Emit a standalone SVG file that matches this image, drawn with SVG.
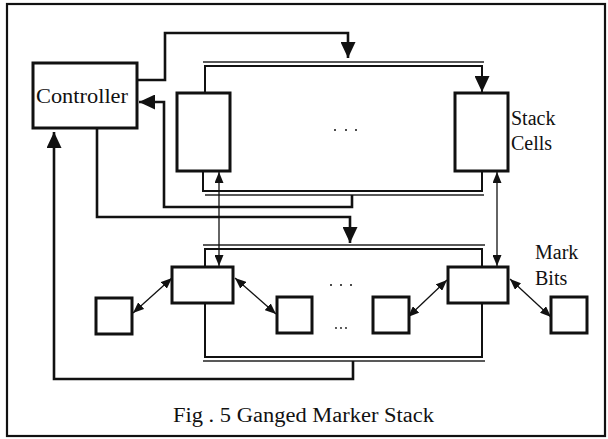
<svg xmlns="http://www.w3.org/2000/svg" width="608" height="439" viewBox="0 0 608 439">
<style>
.box{fill:#fff;stroke:#111;stroke-width:3}
.thick{fill:none;stroke:#111;stroke-width:2.6;stroke-linejoin:miter}
.bus{fill:none;stroke:#222;stroke-width:1.4}
.busin{fill:none;stroke:#111;stroke-width:2}
.thin{fill:none;stroke:#111;stroke-width:1.3}
text{font-family:"Liberation Serif","Times New Roman",serif;fill:#111}
.dot{fill:#111}
</style>
<defs>
<marker id="big" markerUnits="userSpaceOnUse" markerWidth="16" markerHeight="15" viewBox="0 0 16 15" refX="16" refY="7.5" orient="auto">
<path d="M0,0 L16,7.5 L0,15 z" fill="#111"/>
</marker>
<marker id="sm" markerUnits="userSpaceOnUse" markerWidth="11" markerHeight="9" viewBox="0 0 11 9" refX="11" refY="4.5" orient="auto-start-reverse">
<path d="M0,0 L11,4.5 L0,9 z" fill="#111"/>
</marker>
</defs>
<rect x="7" y="4" width="598" height="432" fill="#fff" stroke="#111" stroke-width="2.2"/>

<g id="connectors">
<path class="thick" d="M137,80 H165 V33 H348 V58" marker-end="url(#big)"/>
<path class="bus" d="M203,62 H484"/>
<path class="busin" d="M205,92 V66 H482 V92" marker-start="url(#big)" marker-end="url(#big)"/>
<path class="busin" d="M203,171 V191 H482 V171"/>
<path class="bus" d="M205,195 H484"/>
<path class="thick" d="M352,195 V207 H164 V102 H139" marker-end="url(#big)"/>
<path class="thick" d="M97,128 V217 H350 V243" marker-end="url(#big)"/>
<path class="bus" d="M203,245 H485"/>
<path class="busin" d="M205,267 V249 H482 V267"/>
<path class="busin" d="M205,303 V357 H482 V303"/>
<path class="bus" d="M203,361 H485"/>
<path class="thick" d="M353,361 V379 H54 V132" marker-end="url(#big)"/>
<path class="thin" d="M219,172 V266" marker-start="url(#sm)" marker-end="url(#sm)"/>
<path class="thin" d="M497,172 V266" marker-start="url(#sm)" marker-end="url(#sm)"/>
<path class="thin" d="M172,278 L133,313" marker-start="url(#sm)" marker-end="url(#sm)"/>
<path class="thin" d="M235,278 L276,314" marker-start="url(#sm)" marker-end="url(#sm)"/>
<path class="thin" d="M408,317 L447,280" marker-start="url(#sm)" marker-end="url(#sm)"/>
<path class="thin" d="M510,279 L551,317" marker-start="url(#sm)" marker-end="url(#sm)"/>
</g>

<g id="controller">
<rect class="box" x="33" y="63" width="104" height="65"/>
<text x="36" y="103" font-size="21" textLength="92" lengthAdjust="spacingAndGlyphs">Controller</text>
</g>
<g id="stack-cell-1"><rect class="box" x="177" y="93" width="53" height="78"/></g>
<g id="stack-cell-2"><rect class="box" x="455" y="93" width="53" height="78"/></g>
<g id="stack-dots">
<circle class="dot" cx="335" cy="130" r="1"/><circle class="dot" cx="346" cy="130" r="1"/><circle class="dot" cx="356" cy="130" r="1"/>
</g>
<g id="stack-label">
<text x="511" y="125" font-size="20">Stack</text>
<text x="511" y="150" font-size="20">Cells</text>
</g>
<g id="mark-box-1"><rect class="box" x="172" y="267" width="61" height="36"/></g>
<g id="mark-box-2"><rect class="box" x="448" y="267" width="60" height="36"/></g>
<g id="bit-1"><rect class="box" x="96" y="298" width="36" height="36"/></g>
<g id="bit-2"><rect class="box" x="277" y="297" width="35" height="36"/></g>
<g id="bit-3"><rect class="box" x="373" y="297" width="36" height="36"/></g>
<g id="bit-4"><rect class="box" x="551" y="297" width="36" height="36"/></g>
<g id="mark-dots">
<circle class="dot" cx="331" cy="285" r="1"/><circle class="dot" cx="341" cy="285" r="1"/><circle class="dot" cx="351" cy="285" r="1"/>
<circle class="dot" cx="336" cy="328" r="0.9"/><circle class="dot" cx="341" cy="328" r="0.9"/><circle class="dot" cx="346" cy="328" r="0.9"/>
</g>
<g id="mark-label">
<text x="535" y="259" font-size="20">Mark</text>
<text x="535" y="285" font-size="20">Bits</text>
</g>
<g id="caption">
<text x="173" y="422" font-size="20" textLength="261" lengthAdjust="spacingAndGlyphs">Fig . 5 Ganged Marker Stack</text>
</g>
</svg>
